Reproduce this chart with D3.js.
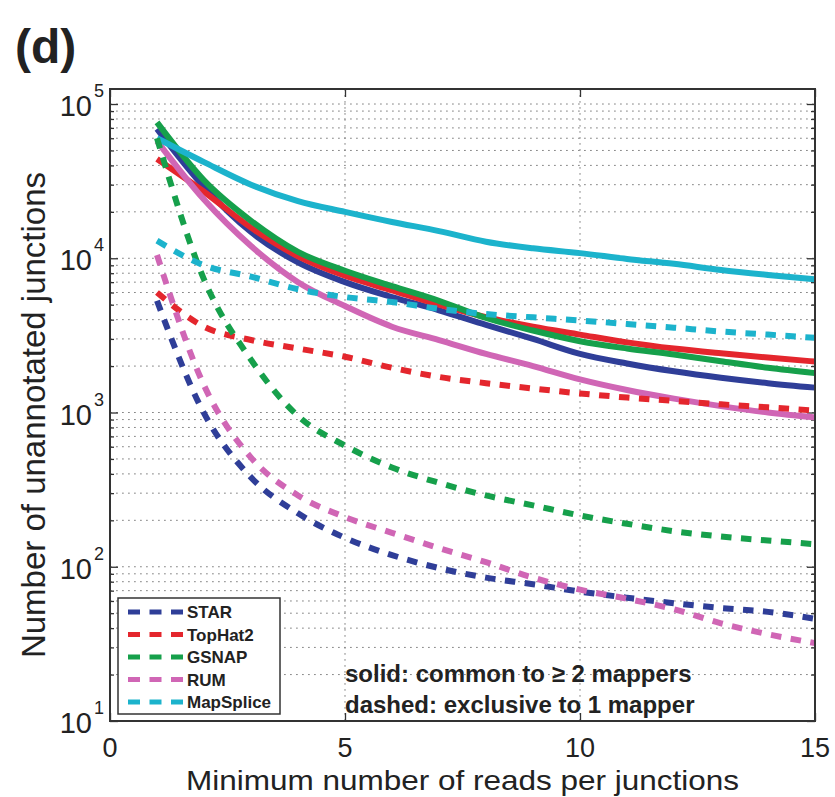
<!DOCTYPE html>
<html><head><meta charset="utf-8">
<script src="https://cdn.jsdelivr.net/npm/d3@7"></script>
<style>
body{margin:0;background:#fff}
svg{display:block}
text{font-family:"Liberation Sans",Arial,Helvetica,sans-serif;fill:#222}
</style>
</head><body>
<svg id="chart" width="835" height="797"></svg>
<script>
// ---- data ----
const minReads = [1,2,3,4,5,6,7,8,9,10,11,12,13,14,15];
const mappers = ["STAR","TopHat2","GSNAP","RUM","MapSplice"];
const mapperColors = ["#2f3e98","#e4262d","#16a04b","#d066b5","#1cb3cc"];

// solid: common to >= 2 mappers
const commonSTAR      = [69000,29000,14800,9400,7000,5600,4600,3700,3000,2400,2080,1850,1680,1550,1450];
const commonTopHat2   = [44000,27000,15800,10300,7700,6200,5000,4150,3600,3200,2850,2600,2420,2270,2140];
const commonGSNAP     = [76000,32000,17500,11000,8300,6600,5300,4100,3400,2900,2600,2380,2150,1950,1800];
const commonRUM       = [57500,24000,12000,7000,4900,3600,2950,2400,2000,1640,1400,1230,1100,1000,930];
const commonMapSplice = [60000,42000,30000,23500,20000,17200,15000,12800,11600,10800,9900,9200,8400,7800,7300];

// dashed: exclusive to 1 mapper
const exclusiveSTAR      = [5300,990,380,222,154,119,98,85,77,69,63,58,54,51,46];
const exclusiveTopHat2   = [6000,3600,2950,2600,2300,1950,1700,1550,1430,1330,1250,1190,1130,1080,1030];
const exclusiveGSNAP     = [60000,7300,2200,950,610,440,350,290,250,215,190,170,157,148,140];
const exclusiveRUM       = [10500,1500,510,290,210,166,132,107,85,71,62,53,43,36.5,32];
const exclusiveMapSplice = [13000,9000,7600,6300,5600,5200,4700,4350,4140,3950,3750,3550,3350,3200,3050];

const xTickValues = [0,5,10,15];
const yTickExponents = [1,2,3,4,5];

const commonSeries = [commonSTAR, commonTopHat2, commonGSNAP, commonRUM, commonMapSplice];
const exclusiveSeries = [exclusiveSTAR, exclusiveTopHat2, exclusiveGSNAP, exclusiveRUM, exclusiveMapSplice];

// ---- layout ----
const L = 110, R = 815, T = 89, B = 721;
const svg = d3.select("#chart");

const x = d3.scaleLinear().domain([0, 15]).range([L, R]);
const y = d3.scaleLog().domain([10, Math.pow(10, 5 + 15/154)]).range([B, T]);

const majorY = yTickExponents.map(e => Math.pow(10, e));
const minorY = [];
for (let e = 1; e <= 4; e++) for (let k = 2; k <= 9; k++) minorY.push(k * Math.pow(10, e));
const allY = majorY.concat(minorY);

// grid
const grid = svg.append("g");
grid.selectAll("line.hg").data(allY).join("line")
  .attr("x1", L).attr("x2", R)
  .attr("y1", d => y(d)).attr("y2", d => y(d))
  .attr("stroke", "#888").attr("stroke-width", 1)
  .attr("stroke-dasharray", "1.8,4.2");
grid.selectAll("line.vg").data(xTickValues.filter(v => v > 0 && v < 15)).join("line")
  .attr("x1", d => x(d)).attr("x2", d => x(d))
  .attr("y1", T).attr("y2", B)
  .attr("stroke", "#888").attr("stroke-width", 1)
  .attr("stroke-dasharray", "1.8,4.2");

// ticks (inside)
const axStroke = "#333";
function tickAxis(axis, transform) {
  const g = svg.append("g").attr("transform", transform).call(axis);
  g.select(".domain").remove();
  g.selectAll(".tick line").attr("stroke", axStroke).attr("stroke-width", 1.3);
  g.selectAll(".tick text").remove();
}
tickAxis(d3.axisLeft(y).tickValues(majorY).tickSize(-8), `translate(${L},0)`);
tickAxis(d3.axisLeft(y).tickValues(minorY).tickSize(-4), `translate(${L},0)`);
tickAxis(d3.axisRight(y).tickValues(majorY).tickSize(-8), `translate(${R},0)`);
tickAxis(d3.axisRight(y).tickValues(minorY).tickSize(-4), `translate(${R},0)`);
tickAxis(d3.axisBottom(x).tickValues(xTickValues).tickSize(-8), `translate(0,${B})`);
tickAxis(d3.axisTop(x).tickValues(xTickValues).tickSize(-8), `translate(0,${T})`);

// data lines
const line = d3.line().x((d, i) => x(minReads[i])).y(d => y(d)).curve(d3.curveMonotoneX);
const plot = svg.append("g");
commonSeries.forEach((s, i) => {
  plot.append("path").datum(s).attr("d", line)
    .attr("fill", "none").attr("stroke", mapperColors[i]).attr("stroke-width", 6)
    .attr("stroke-linejoin", "round");
});
exclusiveSeries.forEach((s, i) => {
  plot.append("path").datum(s).attr("d", line)
    .attr("fill", "none").attr("stroke", mapperColors[i]).attr("stroke-width", 6)
    .attr("stroke-dasharray", "10.5,9.5");
});

// box
svg.append("rect").attr("x", L).attr("y", T).attr("width", R - L).attr("height", B - T)
  .attr("fill", "none").attr("stroke", axStroke).attr("stroke-width", 2);

// y tick labels
const yl = svg.append("g");
yTickExponents.forEach(e => {
  const yy = y(Math.pow(10, e));
  yl.append("text").attr("x", 92).attr("y", yy + 12).attr("text-anchor", "end")
    .attr("font-size", 29).text("10");
  yl.append("text").attr("x", 94).attr("y", yy - 7).attr("text-anchor", "start")
    .attr("font-size", 18).text(String(e));
});

// x tick labels
svg.append("g").selectAll("text").data(xTickValues).join("text")
  .attr("x", d => x(d)).attr("y", 757).attr("text-anchor", "middle")
  .attr("font-size", 27).text(d => d);

// axis labels
svg.append("text").attr("x", (L + R) / 2).attr("y", 790).attr("text-anchor", "middle")
  .attr("font-size", 28).attr("textLength", 553).attr("lengthAdjust", "spacingAndGlyphs")
  .text("Minimum number of reads per junctions");
svg.append("text").attr("transform", `translate(45,${(T + B) / 2 + 10}) rotate(-90)`)
  .attr("text-anchor", "middle").attr("font-size", 33).text("Number of unannotated junctions");

// panel label
svg.append("text").attr("x", 15).attr("y", 63).attr("font-size", 48).attr("font-weight", "bold")
  .text("(d)");

// legend
const lg = svg.append("g");
lg.append("rect").attr("x", 118).attr("y", 598).attr("width", 162).attr("height", 116)
  .attr("fill", "#fff").attr("stroke", axStroke).attr("stroke-width", 1.5);
mappers.forEach((m, i) => {
  const yy = 612 + i * 22.5;
  lg.append("line").attr("x1", 128).attr("x2", 183).attr("y1", yy).attr("y2", yy)
    .attr("stroke", mapperColors[i]).attr("stroke-width", 5).attr("stroke-dasharray", "12,9.5");
  lg.append("text").attr("x", 187).attr("y", yy + 6).attr("font-size", 17).attr("font-weight", "bold")
    .text(m);
});

// annotation
svg.append("text").attr("x", 345).attr("y", 682).attr("font-size", 24).attr("font-weight", "bold")
  .text("solid: common to \u2265 2 mappers");
svg.append("text").attr("x", 345).attr("y", 713).attr("font-size", 24).attr("font-weight", "bold")
  .text("dashed: exclusive to 1 mapper");
</script>
</body></html>
